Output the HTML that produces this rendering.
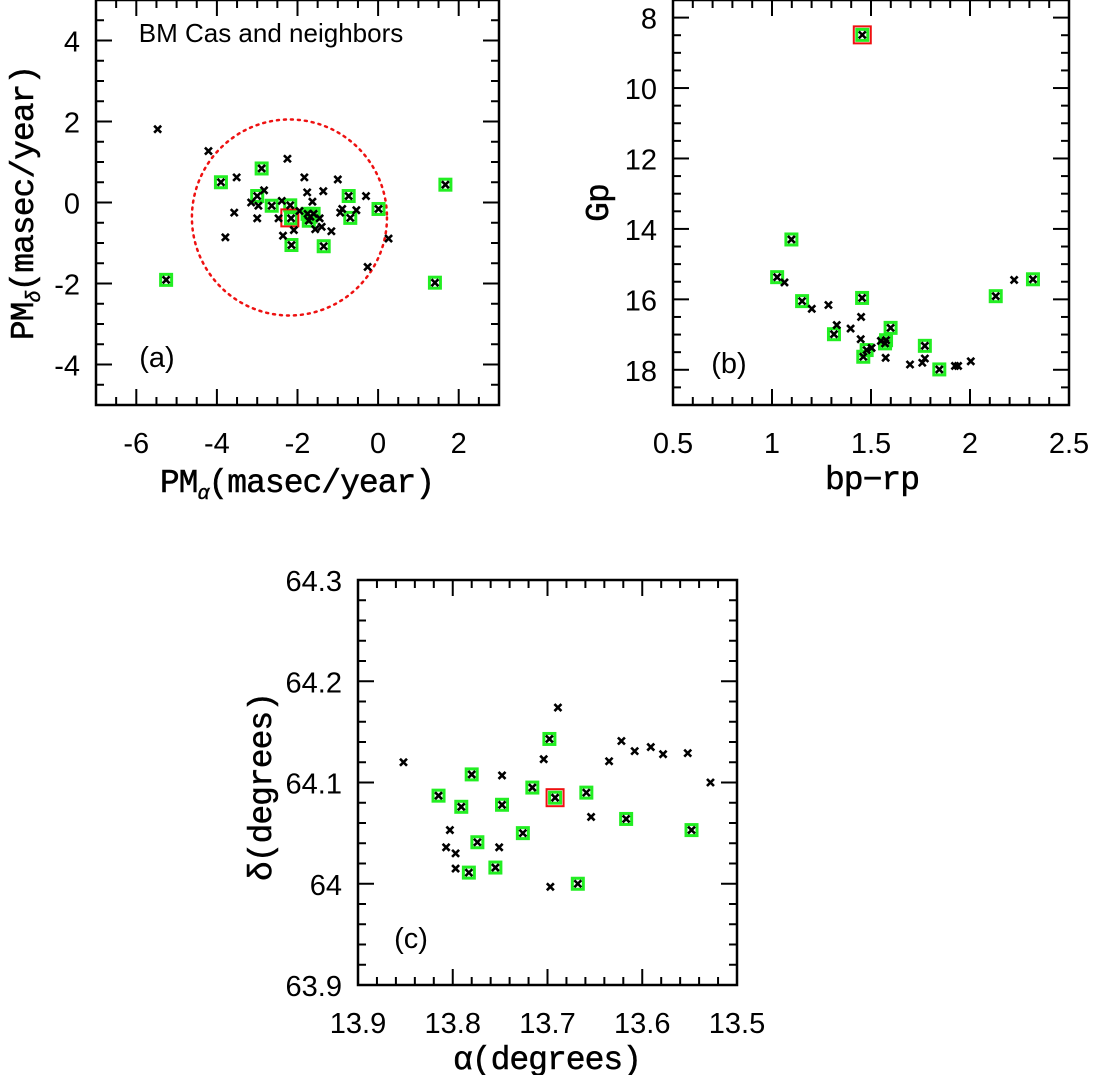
<!DOCTYPE html>
<html><head><meta charset="utf-8">
<style>
html,body{margin:0;padding:0;background:#fff;}
svg{display:block;}
.tick{font-family:"Liberation Sans",sans-serif;font-size:29px;fill:#000;}
.title{font-family:"Liberation Mono",monospace;font-size:33px;fill:#000;letter-spacing:-1px;stroke:#000;stroke-width:0.5px;}
.note{font-family:"Liberation Sans",sans-serif;font-size:26px;fill:#000;}
.lab{font-family:"Liberation Sans",sans-serif;font-size:29px;fill:#000;}
</style></head>
<body>
<svg id="chart" width="1093" height="1075" viewBox="0 0 1093 1075" xmlns="http://www.w3.org/2000/svg"></svg>
<script>
// Panel (a) proper motions
const aBlackX=[-5.47,-4.21,-3.51,-3.57,-3.79,-3.15,-2.97,-3.0,-2.83,-2.25,-2.39,-2.47,-2.36,-2.09,-1.83,-1.76,-1.63,-1.36,-1.45,-1.56,-1.40,-1.16,-1.00,-0.94,-0.89,-0.54,-0.30,0.26,-0.26,-1.95];
const aBlackY=[1.81,1.27,0.62,-0.25,-0.86,0,-0.08,-0.39,0.30,1.08,0.04,-0.39,-0.82,-0.68,0.62,0.25,0.02,0.28,-0.39,-0.66,-0.60,-0.71,0.57,-0.25,-0.16,-0.19,0.16,-0.89,-1.59,-0.21];
const aGreenX=[-3.90,-2.89,-3.0,-2.64,-2.18,-2.15,-1.35,-1.75,-1.68,-1.60,-1.72,-0.73,-0.69,0.01,1.67,1.41,-5.26,-2.16];
const aGreenY=[0.50,0.84,0.16,-0.08,-0.07,-1.05,-1.08,-0.28,-0.35,-0.28,-0.45,0.16,-0.38,-0.16,0.44,-1.98,-1.91,-0.39];
const aStarX=[-2.19], aStarY=[-0.38];
const aCircle=[-2.2,-0.37,2.42];
// Panel (b) CMD
const bBlackX=[1.063,1.201,1.285,1.327,1.397,1.450,1.448,1.503,1.574,1.697,1.759,1.772,1.924,1.940,2.004,2.223,1.55];
const bBlackY=[15.52,16.27,16.16,16.73,16.83,16.50,17.13,17.38,17.66,17.85,17.80,17.68,17.89,17.89,17.76,15.45,17.18];
const bGreenX=[1.456,1.098,1.026,1.152,1.455,1.313,1.599,1.571,1.576,1.478,1.461,1.772,1.845,2.130,2.318];
const bGreenY=[8.49,14.30,15.37,16.05,15.96,16.99,16.81,17.25,17.16,17.44,17.63,17.32,17.99,15.91,15.43];
const bStarX=[1.456], bStarY=[8.49];
// Panel (c) sky positions
const cBlackX=[13.852,13.748,13.803,13.807,13.797,13.797,13.751,13.689,13.704,13.697,13.654,13.635,13.622,13.608,13.591,13.578,13.552,13.528];
const cBlackY=[64.120,64.107,64.053,64.036,64.030,64.015,64.036,64.174,64.123,63.997,64.066,64.121,64.141,64.131,64.135,64.128,64.129,64.100];
const cGreenX=[13.815,13.780,13.791,13.748,13.774,13.783,13.755,13.726,13.716,13.698,13.692,13.659,13.668,13.617,13.548];
const cGreenY=[64.087,64.108,64.076,64.078,64.041,64.011,64.016,64.050,64.095,64.143,64.085,64.090,64.000,64.064,64.053];
const cStarX=[13.692], cStarY=[64.085];
const aXTicks=["-6","-4","-2","0","2"], aYTicks=["-4","-2","0","2","4"];
const bXTicks=["0.5","1","1.5","2","2.5"], bYTicks=["8","10","12","14","16","18"];
const cXTicks=["13.9","13.8","13.7","13.6","13.5"], cYTicks=["63.9","64","64.1","64.2","64.3"];

const NS="http://www.w3.org/2000/svg";
const svg=document.getElementById('chart');
function mk(tag,attrs,parent){const e=document.createElementNS(NS,tag);for(const k in attrs)e.setAttribute(k,attrs[k]);(parent||svg).appendChild(e);return e;}
function scale(d0,d1,p0,p1){return v=>p0+(v-d0)*(p1-p0)/(d1-d0);}

function panel(name,L,T,R,B,xd,yd,xMinor,xMajor,yMinor,yMajor,xT,yT){
  const g=mk('g',{});
  
  
  const sx=scale(xd[0],xd[1],L,R), sy=scale(yd[0],yd[1],B,T);
  const lo=Math.min(xd[0],xd[1]), hi=Math.max(xd[0],xd[1]);
  for(let v=lo;v<=hi+1e-9;v+=xMinor){const maj=Math.abs(v/xMajor-Math.round(v/xMajor))<1e-6;const len=maj?16:8;const x=sx(v);
    mk('line',{x1:x,y1:B,x2:x,y2:B-len,stroke:'#000','stroke-width':2},g);mk('line',{x1:x,y1:T,x2:x,y2:T+len,stroke:'#000','stroke-width':2},g);}
  const ylo=Math.min(yd[0],yd[1]), yhi=Math.max(yd[0],yd[1]);
  for(let v=ylo;v<=yhi+1e-9;v+=yMinor){const maj=Math.abs(v/yMajor-Math.round(v/yMajor))<1e-6;const len=maj?16:8;const y=sy(v);
    mk('line',{x1:L,y1:y,x2:L+len,y2:y,stroke:'#000','stroke-width':2},g);mk('line',{x1:R,y1:y,x2:R-len,y2:y,stroke:'#000','stroke-width':2},g);}
  mk('rect',{x:L,y:T,width:R-L,height:B-T,fill:'none',stroke:'#000','stroke-width':2.5},g);
  xT.forEach(t=>{const e=mk('text',{x:sx(parseFloat(t)),y:B+48,'text-anchor':'middle',class:'tick'},g);e.textContent=t;
    
    });
  yT.forEach(t=>{const e=mk('text',{x:L-16,y:sy(parseFloat(t))+11,'text-anchor':'end',class:'tick'},g);e.textContent=t;
    
    });
  return {g,sx,sy};
}
function cross(g,x,y){const s=3.5;
  const p=mk('path',{d:`M${x-s},${y-s}L${x+s},${y+s}M${x-s},${y+s}L${x+s},${y-s}`,stroke:'#000','stroke-width':2.6,fill:'none'},g);
  
  }
function box(g,x,y,s,col,w,nm){const r=mk('rect',{x:x-s/2,y:y-s/2,width:s,height:s,fill:'none',stroke:col,'stroke-width':w},g);
  
  }
function drawPts(P,bx,by,gx,gy,rx,ry){
  gx.forEach((v,i)=>box(P.g,P.sx(v),P.sy(gy[i]),11,'#22ee22',3,'member-box'));
  rx.forEach((v,i)=>box(P.g,P.sx(v),P.sy(ry[i]),17,'#ee1111',2,'bm-cas-box'));
  bx.forEach((v,i)=>cross(P.g,P.sx(v),P.sy(by[i])));
  gx.forEach((v,i)=>cross(P.g,P.sx(v),P.sy(gy[i])));
}
function txt(x,y,s,cls,nm,rot){const e=mk('text',{x:x,y:y,class:cls,'text-anchor':'middle'});
  if(rot)e.setAttribute('transform',`rotate(-90 ${x} ${y})`);
  e.textContent=s;
  
  return e;}

// Panel a
const A=panel('panel-a-proper-motion',96,0,499,405,[-7,3],[-5,5],0.5,2,0.5,2,aXTicks,aYTicks);
const circ=mk('ellipse',{cx:A.sx(aCircle[0]),cy:A.sy(aCircle[1]),rx:A.sx(aCircle[0]+aCircle[2])-A.sx(aCircle[0]),ry:A.sy(aCircle[1]-aCircle[2])-A.sy(aCircle[1]),fill:'none',stroke:'#ee1111','stroke-width':2.5,'stroke-dasharray':'2 5','stroke-linecap':'round'},A.g);


drawPts(A,aBlackX,aBlackY,aGreenX,aGreenY,aStarX,aStarY);
txt(271,42,'BM Cas and neighbors','note','panel-title');
txt(157,367,'(a)','lab','panel-a-label');
const xa=txt(297,492,'','title','x-axis-title-a');xa.innerHTML='PM<tspan font-size="20" font-style="italic" dy="7">α</tspan><tspan dy="-7">(masec/year)</tspan>';
const ya=txt(33,203,'','title','y-axis-title-a',true);ya.innerHTML='PM<tspan font-size="20" font-style="italic" dy="7">δ</tspan><tspan dy="-7">(masec/year)</tspan>';

// Panel b
const Bp=panel('panel-b-cmd',673,0,1069,405,[0.5,2.5],[19,7.5],0.1,0.5,0.5,2,bXTicks,bYTicks);
drawPts(Bp,bBlackX,bBlackY,bGreenX,bGreenY,bStarX,bStarY);
txt(729,373,'(b)','lab','panel-b-label');
txt(872,489,'bp−rp','title','x-axis-title-b');
txt(608,203,'Gp','title','y-axis-title-b',true);

// Panel c
const C=panel('panel-c-sky',358,580,737,985,[13.9,13.5],[63.9,64.3],0.02,0.1,0.02,0.1,cXTicks,cYTicks);
drawPts(C,cBlackX,cBlackY,cGreenX,cGreenY,cStarX,cStarY);
txt(411,948,'(c)','lab','panel-c-label');
txt(547,1069,'α(degrees)','title','x-axis-title-c');
txt(271,787,'δ(degrees)','title','y-axis-title-c',true);
</script>
</body></html>
